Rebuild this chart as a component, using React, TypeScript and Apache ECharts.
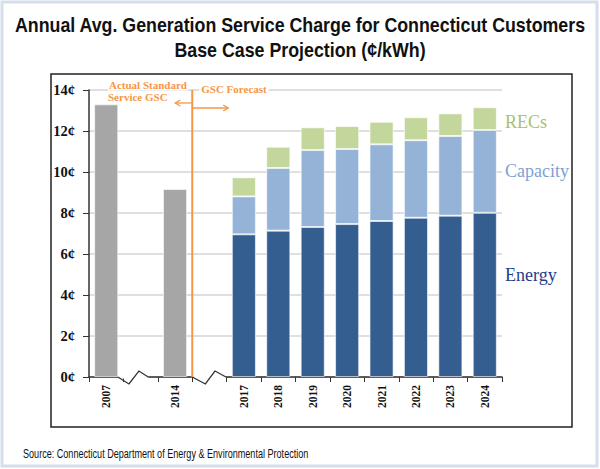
import React, { useEffect, useRef } from "react";
import * as echarts from "echarts";

const categories = ["2007", "b1", "2014", "b2", "2017", "2018", "2019", "2020", "2021", "2022", "2023", "2024"];
const actualGSC = [13.3, null, 9.17, null, null, null, null, null, null, null, null, null];
const energy = [null, null, null, null, 6.96, 7.14, 7.32, 7.46, 7.61, 7.77, 7.87, 8.01];
const capacity = [null, null, null, null, 1.85, 3.06, 3.75, 3.66, 3.74, 3.78, 3.89, 4.04];
const recs = [null, null, null, null, 0.93, 1.03, 1.11, 1.12, 1.1, 1.12, 1.1, 1.11];
const yTicks = { min: 0, max: 14, interval: 2 };
const titleLines = ["Annual Avg. Generation Service Charge for Connecticut Customers", "Base Case Projection (¢/kWh)"];
const sourceText = "Source: Connecticut Department of Energy & Environmental Protection";
const actualLines = ["Actual Standard", "Service GSC"];
const forecastText = "GSC Forecast";
const rightLabels = [
  { text: "RECs", value: 12.45, color: "#A6C26A" },
  { text: "Capacity", value: 10.05, color: "#7EA1D4" },
  { text: "Energy", value: 5.0, color: "#1F3D8A" },
];

const SERIF = "'Liberation Serif', 'Times New Roman', serif";
const SANS = "'Liberation Sans', Arial, sans-serif";
const ORANGE = "#F79646";

function measure(text: string, font: string): number {
  const c = document.createElement("canvas").getContext("2d")!;
  c.font = font;
  return c.measureText(text).width;
}

export default function App() {
  const ref = useRef<HTMLDivElement>(null);
  useEffect(() => {
    const chart = echarts.init(ref.current!, null, { renderer: "svg" });
    const barBorder = { borderColor: "rgba(255,255,255,0.6)", borderWidth: 1 };
    chart.setOption({
      animation: false,
      backgroundColor: "#fff",
      grid: { left: 89, top: 90, right: 98, bottom: 92 },
      xAxis: {
        type: "category",
        data: categories,
        axisLine: { lineStyle: { color: "#333", width: 1.5 } },
        axisTick: { show: true, interval: 0, length: 5, lineStyle: { color: "#333" } },
        axisLabel: {
          interval: 0,
          rotate: 90,
          margin: 8,
          fontFamily: SERIF,
          fontWeight: "bold",
          fontSize: 11.5,
          color: "#111",
          formatter: (v: string) => (v.startsWith("b") ? "" : v),
        },
      },
      yAxis: {
        type: "value",
        min: yTicks.min,
        max: yTicks.max,
        interval: yTicks.interval,
        axisLine: { show: true, lineStyle: { color: "#333", width: 1.5 } },
        axisTick: { show: true, length: 6, lineStyle: { color: "#333" } },
        axisLabel: { formatter: "{value}¢", fontFamily: SERIF, fontWeight: "bold", fontSize: 14.5, color: "#111", margin: 14 },
        splitLine: { lineStyle: { color: "#D4D4D4", width: 1.5 } },
      },
      series: [
        { name: "Actual", type: "bar", stack: "all", data: actualGSC, barWidth: "70%", itemStyle: { color: "#A6A6A6", ...barBorder } },
        { name: "Energy", type: "bar", stack: "all", data: energy, barWidth: "70%", itemStyle: { color: "#355E90", ...barBorder } },
        { name: "Capacity", type: "bar", stack: "all", data: capacity, barWidth: "70%", itemStyle: { color: "#95B3D7", ...barBorder } },
        { name: "RECs", type: "bar", stack: "all", data: recs, barWidth: "70%", itemStyle: { color: "#C3D69B", ...barBorder } },
      ],
    });

    const px = (i: number, v: number) => chart.convertToPixel({ gridIndex: 0 }, [i, v]) as number[];
    const band = px(1, 0)[0] - px(0, 0)[0];
    const y0 = px(0, 0)[1];
    const yTop = px(0, 14)[1];
    const lineX = (px(2, 0)[0] + px(3, 0)[0]) / 2;
    const c1 = px(1, 0)[0];
    const c3 = px(3, 0)[0];
    const zig = (c: number, offs: number[]) => [
      [c + offs[0], y0],
      [c + offs[1], y0 + 7],
      [c + offs[2], y0 - 6],
      [c + offs[3], y0],
    ];
    const z1 = zig(c1, [-band * 0.66, -band * 0.34, -band * 0.05, band * 0.22]);
    const z2 = zig(c3, [-band * 0.5, -band * 0.12, band * 0.16, band * 0.48]);
    const lastX = px(11, 0)[0] + band / 2;
    const arrowY1 = yTop + 13;
    const arrowY2 = yTop + 18;

    const titleFont = `bold 21px ${SANS}`;
    const titleScale = 571 / measure(titleLines[0], titleFont);
    const srcFont = `12.5px ${SANS}`;
    const srcScale = 286 / measure(sourceText, srcFont);
    const annFont = `bold 11px ${SERIF}`;

    const graphics: any[] = [
      { type: "rect", shape: { x: 2, y: 2, width: 595, height: 464 }, style: { fill: "none", stroke: "#D5DEEC", lineWidth: 3 }, silent: true },
      { type: "rect", shape: { x: 51, y: 74, width: 521, height: 353 }, style: { fill: "none", stroke: "#222", lineWidth: 1.5 }, silent: true },
      { type: "line", shape: { x1: z1[0][0], y1: y0, x2: z1[3][0], y2: y0 }, style: { stroke: "#fff", lineWidth: 3 }, z: 50 },
      { type: "line", shape: { x1: z2[0][0] + 1, y1: y0, x2: z2[3][0], y2: y0 }, style: { stroke: "#fff", lineWidth: 3 }, z: 50 },
      { type: "polyline", shape: { points: z1 }, style: { fill: "none", stroke: "#333", lineWidth: 1.3 }, z: 51 },
      { type: "polyline", shape: { points: z2 }, style: { fill: "none", stroke: "#333", lineWidth: 1.3 }, z: 51 },
      { type: "line", shape: { x1: lineX, y1: yTop, x2: lineX, y2: y0 }, style: { stroke: ORANGE, lineWidth: 2 }, z: 52 },
      { type: "line", shape: { x1: lineX, y1: arrowY1, x2: lineX - 17, y2: arrowY1 }, style: { stroke: ORANGE, lineWidth: 1.3 }, z: 52 },
      { type: "polyline", shape: { points: [[lineX - 12, arrowY1 - 3], [lineX - 17, arrowY1], [lineX - 12, arrowY1 + 3]] }, style: { fill: "none", stroke: ORANGE, lineWidth: 1.3 }, z: 52 },
      { type: "line", shape: { x1: lineX, y1: arrowY2, x2: lineX + 36, y2: arrowY2 }, style: { stroke: ORANGE, lineWidth: 1.3 }, z: 52 },
      { type: "polyline", shape: { points: [[lineX + 31, arrowY2 - 3], [lineX + 36, arrowY2], [lineX + 31, arrowY2 + 3]] }, style: { fill: "none", stroke: ORANGE, lineWidth: 1.3 }, z: 52 },
      {
        type: "text", x: 108, y: 85, z: 53,
        style: { text: actualLines[0], fill: ORANGE, font: annFont, verticalAlign: "middle", backgroundColor: "#fff", padding: [0, 1] },
      },
      {
        type: "text", x: 108, y: 96.5, z: 53,
        style: { text: actualLines[1], fill: ORANGE, font: annFont, verticalAlign: "middle" },
      },
      {
        type: "text", x: lineX + 7, y: yTop - 1, z: 53,
        style: { text: forecastText, fill: ORANGE, font: annFont, verticalAlign: "middle", backgroundColor: "#fff", padding: [1, 2] },
      },
      {
        type: "text", x: 300, y: 24, scaleX: titleScale, z: 53,
        style: { text: titleLines[0], fill: "#111", font: titleFont, align: "center", verticalAlign: "middle" },
      },
      {
        type: "text", x: 300, y: 49, scaleX: titleScale, z: 53,
        style: { text: titleLines[1], fill: "#111", font: titleFont, align: "center", verticalAlign: "middle" },
      },
      {
        type: "text", x: 23, y: 453, scaleX: srcScale, z: 53,
        style: { text: sourceText, fill: "#111", font: srcFont, verticalAlign: "middle" },
      },
    ];
    rightLabels.forEach((l) => {
      graphics.push({
        type: "text", x: lastX + 3, y: px(11, l.value)[1], z: 53,
        style: { text: l.text, fill: l.color, font: `18px ${SERIF}`, verticalAlign: "middle" },
      });
    });
    chart.setOption({ graphic: graphics });
    return () => chart.dispose();
  }, []);
  return <div ref={ref} style={{ position: "fixed", left: 0, top: 0, width: 600, height: 469, background: "#fff" }} />;
}
